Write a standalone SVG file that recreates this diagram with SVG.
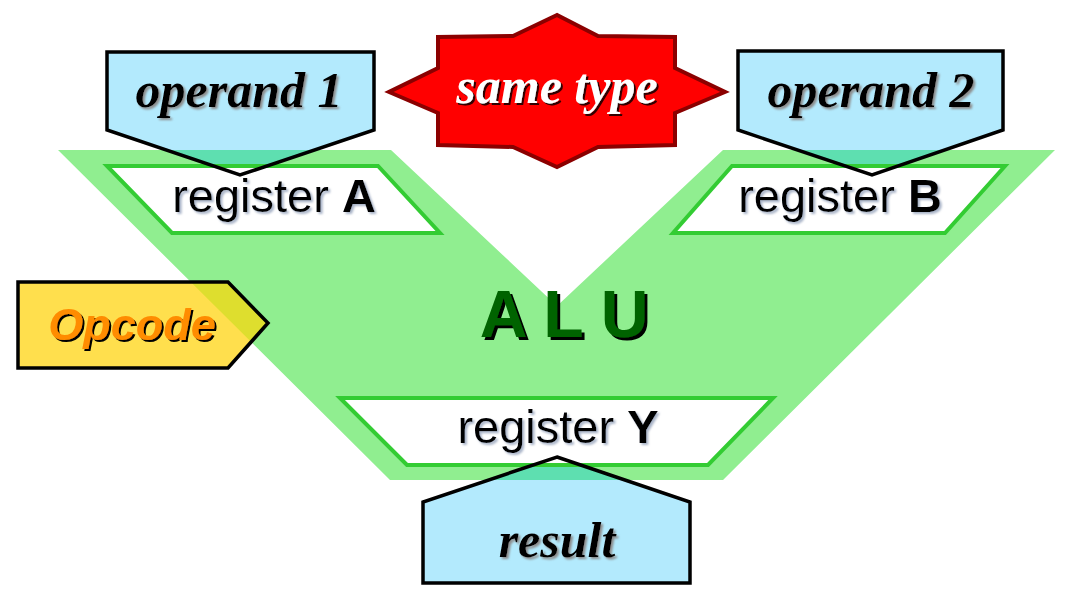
<svg xmlns="http://www.w3.org/2000/svg" width="1076" height="597" viewBox="0 0 1076 597">
<style>
.pent{fill:#B3EAFD}
.pentS{fill:none;stroke:#000;stroke-width:3.5;stroke-linejoin:miter}
.ov{fill:#5EDFB0}
.reg{fill:#fff;stroke:#33CC33;stroke-width:4;stroke-linejoin:miter}
.lbl{font-family:"Liberation Serif",serif;font-weight:bold;font-style:italic;font-size:50px;text-anchor:middle}
.rtxt{font-family:"Liberation Sans",Arial,sans-serif;font-size:47px;text-anchor:middle;fill:#000}
</style>
<defs>
<clipPath id="vclip"><polygon points="58,150 391,150 557,306 723,150 1055,150 723,480 390,480"/></clipPath>
<mask id="mA" maskUnits="userSpaceOnUse" x="0" y="0" width="1076" height="597"><rect width="1076" height="597" fill="#fff"/><polygon points="107,166 378,166 440,233 172,233" fill="#000" stroke="#000" stroke-width="4"/></mask>
<mask id="mB" maskUnits="userSpaceOnUse" x="0" y="0" width="1076" height="597"><rect width="1076" height="597" fill="#fff"/><polygon points="732,166 1005,166 945,233 673,233" fill="#000" stroke="#000" stroke-width="4"/></mask>
<mask id="mY" maskUnits="userSpaceOnUse" x="0" y="0" width="1076" height="597"><rect width="1076" height="597" fill="#fff"/><polygon points="340,398 773,398 708,465 407,465" fill="#000" stroke="#000" stroke-width="4"/></mask>
<filter id="shGray" x="-10%" y="-20%" width="130%" height="150%"><feDropShadow dx="2" dy="2" stdDeviation="0.8" flood-color="#8c8c8c"/></filter>
<filter id="shLight" x="-10%" y="-20%" width="130%" height="150%"><feDropShadow dx="2" dy="2" stdDeviation="0.8" flood-color="#a9b4c8"/></filter>
<filter id="shDark" x="-10%" y="-20%" width="130%" height="150%"><feDropShadow dx="2" dy="2" stdDeviation="0.6" flood-color="#300000"/></filter>
<filter id="shBlack" x="-10%" y="-20%" width="130%" height="150%"><feDropShadow dx="2" dy="2" stdDeviation="0.5" flood-color="#000"/></filter>
<filter id="shAlu" x="-10%" y="-20%" width="130%" height="150%"><feDropShadow dx="3" dy="3" stdDeviation="0.4" flood-color="#000"/></filter>
</defs>

<g id="alu">
<polygon points="58,150 391,150 557,306 723,150 1055,150 723,480 390,480" fill="#90EE90"/>
<text x="564" y="337" font-family="'Liberation Sans',Arial,sans-serif" font-weight="bold" font-size="66" fill="#006400" text-anchor="middle" filter="url(#shAlu)">A L U</text>
</g>

<g id="connectors"></g>

<g id="register-a">
<polygon class="reg" points="107,166 378,166 440,233 172,233"/>
<text class="rtxt" x="274" y="212" filter="url(#shLight)">register <tspan font-weight="bold">A</tspan></text>
</g>

<g id="register-b">
<polygon class="reg" points="732,166 1005,166 945,233 673,233"/>
<text class="rtxt" x="840" y="212" filter="url(#shLight)">register <tspan font-weight="bold">B</tspan></text>
</g>

<g id="register-y">
<polygon class="reg" points="340,398 773,398 708,465 407,465"/>
<text class="rtxt" x="558" y="443" filter="url(#shLight)">register <tspan font-weight="bold">Y</tspan></text>
</g>

<g id="operand-1">
<g mask="url(#mA)">
<polygon class="pent" points="107,52 374,52 374,130 240,175 107,130"/>
<polygon class="ov" clip-path="url(#vclip)" points="107,52 374,52 374,130 240,175 107,130"/>
</g>
<polygon class="pentS" points="107,52 374,52 374,130 240,175 107,130"/>
<text class="lbl" x="239" y="107" fill="#000" filter="url(#shGray)">operand 1</text>
</g>

<g id="operand-2">
<g mask="url(#mB)">
<polygon class="pent" points="738,51 1003,51 1003,130 872,175 738,130"/>
<polygon class="ov" clip-path="url(#vclip)" points="738,51 1003,51 1003,130 872,175 738,130"/>
</g>
<polygon class="pentS" points="738,51 1003,51 1003,130 872,175 738,130"/>
<text class="lbl" x="871" y="107" fill="#000" filter="url(#shGray)">operand 2</text>
</g>

<g id="result">
<g mask="url(#mY)">
<polygon class="pent" points="557,457 690,502 690,583 423,583 423,502"/>
<polygon class="ov" clip-path="url(#vclip)" points="557,457 690,502 690,583 423,583 423,502"/>
</g>
<polygon class="pentS" points="557,457 690,502 690,583 423,583 423,502"/>
<text class="lbl" x="557" y="557" fill="#000" filter="url(#shGray)">result</text>
</g>

<g id="opcode">
<polygon points="18,282 228,282 268,323 228,368 18,368" fill="#FFDF4D"/>
<polygon points="18,282 228,282 268,323 228,368 18,368" fill="#DEDE2E" clip-path="url(#vclip)"/>
<polygon points="18,282 228,282 268,323 228,368 18,368" fill="none" stroke="#000" stroke-width="3.5"/>
<text x="132" y="340" font-family="'Liberation Sans',Arial,sans-serif" font-weight="bold" font-style="italic" font-size="45" fill="#FF8C00" text-anchor="middle" filter="url(#shBlack)">Opcode</text>
</g>

<g id="same-type">
<polygon points="557,15 513,36 438,37 438,68 389,92 438,113 438,145 513,147 557,167 598,147 675,145 675,113 725,92 675,68 675,37 598,36" fill="#FF0000" stroke="#8B0000" stroke-width="4" stroke-linejoin="miter"/>
<text class="lbl" x="557" y="103" fill="#fff" filter="url(#shDark)">same type</text>
</g>
</svg>
